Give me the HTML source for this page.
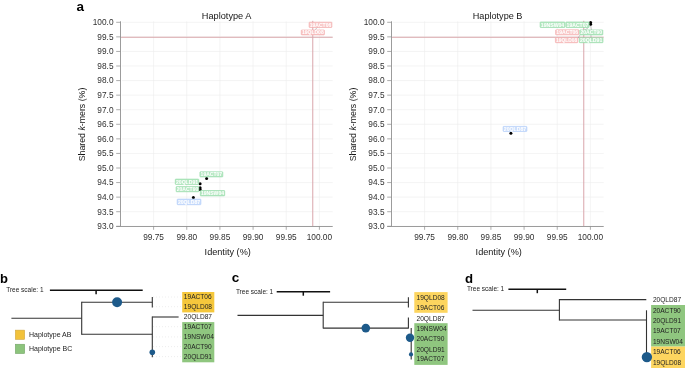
<!DOCTYPE html><html><head><meta charset="utf-8"><style>html,body{margin:0;padding:0;background:#fff;}svg{display:block;will-change:transform;}text{font-family:"Liberation Sans", sans-serif;}</style></head><body>
<svg width="685" height="368" viewBox="0 0 685 368">
<g stroke="#ececec" stroke-width="0.6"><line x1="122.00" y1="22.30" x2="332.70" y2="22.30"/><line x1="122.00" y1="36.87" x2="332.70" y2="36.87"/><line x1="122.00" y1="51.44" x2="332.70" y2="51.44"/><line x1="122.00" y1="66.01" x2="332.70" y2="66.01"/><line x1="122.00" y1="80.58" x2="332.70" y2="80.58"/><line x1="122.00" y1="95.15" x2="332.70" y2="95.15"/><line x1="122.00" y1="109.72" x2="332.70" y2="109.72"/><line x1="122.00" y1="124.29" x2="332.70" y2="124.29"/><line x1="122.00" y1="138.86" x2="332.70" y2="138.86"/><line x1="122.00" y1="153.43" x2="332.70" y2="153.43"/><line x1="122.00" y1="168.00" x2="332.70" y2="168.00"/><line x1="122.00" y1="182.57" x2="332.70" y2="182.57"/><line x1="122.00" y1="197.14" x2="332.70" y2="197.14"/><line x1="122.00" y1="211.71" x2="332.70" y2="211.71"/><line x1="122.00" y1="226.28" x2="332.70" y2="226.28"/><line x1="153.60" y1="21.30" x2="153.60" y2="226.00"/><line x1="186.76" y1="21.30" x2="186.76" y2="226.00"/><line x1="219.92" y1="21.30" x2="219.92" y2="226.00"/><line x1="253.08" y1="21.30" x2="253.08" y2="226.00"/><line x1="286.24" y1="21.30" x2="286.24" y2="226.00"/><line x1="319.40" y1="21.30" x2="319.40" y2="226.00"/></g>
<g stroke="#d9a6ab" stroke-width="1.0"><line x1="120.50" y1="37.25" x2="332.70" y2="37.25"/><line x1="312.77" y1="20.80" x2="312.77" y2="226.50"/></g>
<g stroke="#9c9c9c" stroke-width="1"><line x1="120.50" y1="21.30" x2="120.50" y2="226.50"/><line x1="116.20" y1="226.50" x2="332.70" y2="226.50"/></g>
<g stroke="#8a8a8a" stroke-width="0.7"><line x1="116.20" y1="22.30" x2="120.50" y2="22.30"/><line x1="116.20" y1="36.87" x2="120.50" y2="36.87"/><line x1="116.20" y1="51.44" x2="120.50" y2="51.44"/><line x1="116.20" y1="66.01" x2="120.50" y2="66.01"/><line x1="116.20" y1="80.58" x2="120.50" y2="80.58"/><line x1="116.20" y1="95.15" x2="120.50" y2="95.15"/><line x1="116.20" y1="109.72" x2="120.50" y2="109.72"/><line x1="116.20" y1="124.29" x2="120.50" y2="124.29"/><line x1="116.20" y1="138.86" x2="120.50" y2="138.86"/><line x1="116.20" y1="153.43" x2="120.50" y2="153.43"/><line x1="116.20" y1="168.00" x2="120.50" y2="168.00"/><line x1="116.20" y1="182.57" x2="120.50" y2="182.57"/><line x1="116.20" y1="197.14" x2="120.50" y2="197.14"/><line x1="116.20" y1="211.71" x2="120.50" y2="211.71"/><line x1="116.20" y1="226.28" x2="120.50" y2="226.28"/><line x1="153.60" y1="226.50" x2="153.60" y2="229.80"/><line x1="186.76" y1="226.50" x2="186.76" y2="229.80"/><line x1="219.92" y1="226.50" x2="219.92" y2="229.80"/><line x1="253.08" y1="226.50" x2="253.08" y2="229.80"/><line x1="286.24" y1="226.50" x2="286.24" y2="229.80"/><line x1="319.40" y1="226.50" x2="319.40" y2="229.80"/></g>
<g font-size="8.3" fill="#303030"><text x="113.50" y="25.10" text-anchor="end">100.0</text><text x="113.50" y="39.67" text-anchor="end">99.5</text><text x="113.50" y="54.24" text-anchor="end">99.0</text><text x="113.50" y="68.81" text-anchor="end">98.5</text><text x="113.50" y="83.38" text-anchor="end">98.0</text><text x="113.50" y="97.95" text-anchor="end">97.5</text><text x="113.50" y="112.52" text-anchor="end">97.0</text><text x="113.50" y="127.09" text-anchor="end">96.5</text><text x="113.50" y="141.66" text-anchor="end">96.0</text><text x="113.50" y="156.23" text-anchor="end">95.5</text><text x="113.50" y="170.80" text-anchor="end">95.0</text><text x="113.50" y="185.37" text-anchor="end">94.5</text><text x="113.50" y="199.94" text-anchor="end">94.0</text><text x="113.50" y="214.51" text-anchor="end">93.5</text><text x="113.50" y="229.08" text-anchor="end">93.0</text><text x="153.60" y="239.50" text-anchor="middle">99.75</text><text x="186.76" y="239.50" text-anchor="middle">99.80</text><text x="219.92" y="239.50" text-anchor="middle">99.85</text><text x="253.08" y="239.50" text-anchor="middle">99.90</text><text x="286.24" y="239.50" text-anchor="middle">99.95</text><text x="319.40" y="239.50" text-anchor="middle">100.00</text></g>
<text x="201.80" y="18.8" font-size="9" fill="#151515" textLength="49.6" lengthAdjust="spacingAndGlyphs">Haplotype A</text>
<text x="204.60" y="254.7" font-size="9" fill="#151515" textLength="46.2" lengthAdjust="spacingAndGlyphs">Identity (%)</text>
<text transform="translate(84.50,161.35) rotate(-90)" font-size="9" fill="#151515" textLength="73.7" lengthAdjust="spacingAndGlyphs">Shared <tspan font-style="italic">k</tspan>-mers (%)</text>
<line x1="315" y1="29.7" x2="317.8" y2="27.2" stroke="#777" stroke-width="0.4"/>
<circle cx="206.60" cy="178.40" r="1.5" fill="#000"/>
<circle cx="200.10" cy="183.80" r="1.5" fill="#000"/>
<circle cx="200.10" cy="187.80" r="1.5" fill="#000"/>
<circle cx="200.10" cy="189.50" r="1.5" fill="#000"/>
<circle cx="193.40" cy="197.50" r="1.5" fill="#000"/>
<rect x="309.10" y="22.20" width="22.80" height="5.30" rx="0.6" fill="#f9c9c9" stroke="#f2a6a6" stroke-width="0.6"/>
<text x="309.80" y="26.75" font-size="5.4" font-weight="bold" fill="#fff" textLength="21.40" lengthAdjust="spacingAndGlyphs">19ACT06</text>
<rect x="301.25" y="30.00" width="23.15" height="4.90" rx="0.6" fill="#f9c9c9" stroke="#f2a6a6" stroke-width="0.6"/>
<text x="301.95" y="34.35" font-size="5.4" font-weight="bold" fill="#fff" textLength="21.75" lengthAdjust="spacingAndGlyphs">19QLD08</text>
<rect x="199.90" y="171.80" width="22.90" height="5.10" rx="0.6" fill="#b9e9c5" stroke="#8fd8a3" stroke-width="0.6"/>
<text x="200.60" y="176.25" font-size="5.4" font-weight="bold" fill="#fff" textLength="21.50" lengthAdjust="spacingAndGlyphs">19ACT07</text>
<rect x="175.30" y="179.10" width="23.45" height="5.30" rx="0.6" fill="#b9e9c5" stroke="#8fd8a3" stroke-width="0.6"/>
<text x="176.00" y="183.65" font-size="5.4" font-weight="bold" fill="#fff" textLength="22.05" lengthAdjust="spacingAndGlyphs">20QLD91</text>
<rect x="176.10" y="186.60" width="22.80" height="5.15" rx="0.6" fill="#b9e9c5" stroke="#8fd8a3" stroke-width="0.6"/>
<text x="176.80" y="191.08" font-size="5.4" font-weight="bold" fill="#fff" textLength="21.40" lengthAdjust="spacingAndGlyphs">20ACT90</text>
<rect x="200.30" y="190.50" width="24.40" height="5.40" rx="0.6" fill="#b9e9c5" stroke="#8fd8a3" stroke-width="0.6"/>
<text x="201.00" y="195.10" font-size="5.4" font-weight="bold" fill="#fff" textLength="23.00" lengthAdjust="spacingAndGlyphs">19NSW04</text>
<rect x="177.20" y="199.10" width="23.70" height="5.60" rx="0.6" fill="#cddffc" stroke="#a9c7f8" stroke-width="0.6"/>
<text x="177.90" y="203.80" font-size="5.4" font-weight="bold" fill="#fff" textLength="22.30" lengthAdjust="spacingAndGlyphs">20QLD87</text>
<g stroke="#ececec" stroke-width="0.6"><line x1="393.00" y1="22.30" x2="603.70" y2="22.30"/><line x1="393.00" y1="36.87" x2="603.70" y2="36.87"/><line x1="393.00" y1="51.44" x2="603.70" y2="51.44"/><line x1="393.00" y1="66.01" x2="603.70" y2="66.01"/><line x1="393.00" y1="80.58" x2="603.70" y2="80.58"/><line x1="393.00" y1="95.15" x2="603.70" y2="95.15"/><line x1="393.00" y1="109.72" x2="603.70" y2="109.72"/><line x1="393.00" y1="124.29" x2="603.70" y2="124.29"/><line x1="393.00" y1="138.86" x2="603.70" y2="138.86"/><line x1="393.00" y1="153.43" x2="603.70" y2="153.43"/><line x1="393.00" y1="168.00" x2="603.70" y2="168.00"/><line x1="393.00" y1="182.57" x2="603.70" y2="182.57"/><line x1="393.00" y1="197.14" x2="603.70" y2="197.14"/><line x1="393.00" y1="211.71" x2="603.70" y2="211.71"/><line x1="393.00" y1="226.28" x2="603.70" y2="226.28"/><line x1="424.60" y1="21.30" x2="424.60" y2="226.00"/><line x1="457.76" y1="21.30" x2="457.76" y2="226.00"/><line x1="490.92" y1="21.30" x2="490.92" y2="226.00"/><line x1="524.08" y1="21.30" x2="524.08" y2="226.00"/><line x1="557.24" y1="21.30" x2="557.24" y2="226.00"/><line x1="590.40" y1="21.30" x2="590.40" y2="226.00"/></g>
<g stroke="#d9a6ab" stroke-width="1.0"><line x1="391.50" y1="37.25" x2="603.70" y2="37.25"/><line x1="583.77" y1="20.80" x2="583.77" y2="226.50"/></g>
<g stroke="#9c9c9c" stroke-width="1"><line x1="391.50" y1="21.30" x2="391.50" y2="226.50"/><line x1="387.20" y1="226.50" x2="603.70" y2="226.50"/></g>
<g stroke="#8a8a8a" stroke-width="0.7"><line x1="387.20" y1="22.30" x2="391.50" y2="22.30"/><line x1="387.20" y1="36.87" x2="391.50" y2="36.87"/><line x1="387.20" y1="51.44" x2="391.50" y2="51.44"/><line x1="387.20" y1="66.01" x2="391.50" y2="66.01"/><line x1="387.20" y1="80.58" x2="391.50" y2="80.58"/><line x1="387.20" y1="95.15" x2="391.50" y2="95.15"/><line x1="387.20" y1="109.72" x2="391.50" y2="109.72"/><line x1="387.20" y1="124.29" x2="391.50" y2="124.29"/><line x1="387.20" y1="138.86" x2="391.50" y2="138.86"/><line x1="387.20" y1="153.43" x2="391.50" y2="153.43"/><line x1="387.20" y1="168.00" x2="391.50" y2="168.00"/><line x1="387.20" y1="182.57" x2="391.50" y2="182.57"/><line x1="387.20" y1="197.14" x2="391.50" y2="197.14"/><line x1="387.20" y1="211.71" x2="391.50" y2="211.71"/><line x1="387.20" y1="226.28" x2="391.50" y2="226.28"/><line x1="424.60" y1="226.50" x2="424.60" y2="229.80"/><line x1="457.76" y1="226.50" x2="457.76" y2="229.80"/><line x1="490.92" y1="226.50" x2="490.92" y2="229.80"/><line x1="524.08" y1="226.50" x2="524.08" y2="229.80"/><line x1="557.24" y1="226.50" x2="557.24" y2="229.80"/><line x1="590.40" y1="226.50" x2="590.40" y2="229.80"/></g>
<g font-size="8.3" fill="#303030"><text x="384.50" y="25.10" text-anchor="end">100.0</text><text x="384.50" y="39.67" text-anchor="end">99.5</text><text x="384.50" y="54.24" text-anchor="end">99.0</text><text x="384.50" y="68.81" text-anchor="end">98.5</text><text x="384.50" y="83.38" text-anchor="end">98.0</text><text x="384.50" y="97.95" text-anchor="end">97.5</text><text x="384.50" y="112.52" text-anchor="end">97.0</text><text x="384.50" y="127.09" text-anchor="end">96.5</text><text x="384.50" y="141.66" text-anchor="end">96.0</text><text x="384.50" y="156.23" text-anchor="end">95.5</text><text x="384.50" y="170.80" text-anchor="end">95.0</text><text x="384.50" y="185.37" text-anchor="end">94.5</text><text x="384.50" y="199.94" text-anchor="end">94.0</text><text x="384.50" y="214.51" text-anchor="end">93.5</text><text x="384.50" y="229.08" text-anchor="end">93.0</text><text x="424.60" y="239.50" text-anchor="middle">99.75</text><text x="457.76" y="239.50" text-anchor="middle">99.80</text><text x="490.92" y="239.50" text-anchor="middle">99.85</text><text x="524.08" y="239.50" text-anchor="middle">99.90</text><text x="557.24" y="239.50" text-anchor="middle">99.95</text><text x="590.40" y="239.50" text-anchor="middle">100.00</text></g>
<text x="472.80" y="18.8" font-size="9" fill="#151515" textLength="49.6" lengthAdjust="spacingAndGlyphs">Haplotype B</text>
<text x="475.60" y="254.7" font-size="9" fill="#151515" textLength="46.2" lengthAdjust="spacingAndGlyphs">Identity (%)</text>
<text transform="translate(355.50,161.35) rotate(-90)" font-size="9" fill="#151515" textLength="73.7" lengthAdjust="spacingAndGlyphs">Shared <tspan font-style="italic">k</tspan>-mers (%)</text>
<line x1="588" y1="28" x2="584" y2="30.5" stroke="#777" stroke-width="0.4"/>
<line x1="590.6" y1="25" x2="591.5" y2="30" stroke="#777" stroke-width="0.4"/>
<line x1="580" y1="35" x2="578" y2="38" stroke="#777" stroke-width="0.4"/>
<line x1="591" y1="35" x2="591" y2="38" stroke="#777" stroke-width="0.4"/>
<circle cx="590.60" cy="22.60" r="1.5" fill="#000"/>
<circle cx="590.60" cy="24.30" r="1.5" fill="#000"/>
<circle cx="510.90" cy="133.30" r="1.5" fill="#000"/>
<rect x="540.10" y="22.00" width="24.80" height="5.50" rx="0.6" fill="#b9e9c5" stroke="#8fd8a3" stroke-width="0.6"/>
<text x="540.80" y="26.65" font-size="5.4" font-weight="bold" fill="#fff" textLength="23.40" lengthAdjust="spacingAndGlyphs">19NSW04</text>
<rect x="565.90" y="22.00" width="23.20" height="5.50" rx="0.6" fill="#b9e9c5" stroke="#8fd8a3" stroke-width="0.6"/>
<text x="566.60" y="26.65" font-size="5.4" font-weight="bold" fill="#fff" textLength="21.80" lengthAdjust="spacingAndGlyphs">19ACT07</text>
<rect x="555.60" y="29.80" width="23.30" height="5.00" rx="0.6" fill="#f9c9c9" stroke="#f2a6a6" stroke-width="0.6"/>
<text x="556.30" y="34.20" font-size="5.4" font-weight="bold" fill="#fff" textLength="21.90" lengthAdjust="spacingAndGlyphs">19ACT06</text>
<rect x="579.80" y="29.90" width="23.00" height="5.00" rx="0.6" fill="#b9e9c5" stroke="#8fd8a3" stroke-width="0.6"/>
<text x="580.50" y="34.30" font-size="5.4" font-weight="bold" fill="#fff" textLength="21.60" lengthAdjust="spacingAndGlyphs">20ACT90</text>
<rect x="555.40" y="37.70" width="22.40" height="5.00" rx="0.6" fill="#f9c9c9" stroke="#f2a6a6" stroke-width="0.6"/>
<text x="556.10" y="42.10" font-size="5.4" font-weight="bold" fill="#fff" textLength="21.00" lengthAdjust="spacingAndGlyphs">19QLD08</text>
<rect x="579.30" y="37.70" width="23.70" height="5.00" rx="0.6" fill="#b9e9c5" stroke="#8fd8a3" stroke-width="0.6"/>
<text x="580.00" y="42.10" font-size="5.4" font-weight="bold" fill="#fff" textLength="22.30" lengthAdjust="spacingAndGlyphs">20QLD91</text>
<rect x="503.10" y="126.40" width="23.80" height="5.00" rx="0.6" fill="#cddffc" stroke="#a9c7f8" stroke-width="0.6"/>
<text x="503.80" y="130.80" font-size="5.4" font-weight="bold" fill="#fff" textLength="22.40" lengthAdjust="spacingAndGlyphs">20QLD87</text>
<text x="76.5" y="10.6" font-size="13.5" font-weight="bold" fill="#000">a</text>
<text x="0.0" y="282.8" font-size="13" font-weight="bold" fill="#000">b</text>
<text x="231.7" y="282.2" font-size="13.5" font-weight="bold" fill="#000">c</text>
<text x="464.9" y="282.7" font-size="13.2" font-weight="bold" fill="#000">d</text>
<text x="6.2" y="292.1" font-size="6.5" fill="#222">Tree scale: 1</text>
<line x1="49.9" y1="290.2" x2="142.7" y2="290.2" stroke="#111" stroke-width="1.5"/>
<line x1="96.1" y1="290.2" x2="96.1" y2="294.2" stroke="#111" stroke-width="1.5"/>
<rect x="182.2" y="292" width="32.1" height="20.4" fill="#f5c73c"/>
<rect x="182.2" y="322.1" width="32.1" height="40.2" fill="#8fc67f"/>
<line x1="153" y1="297" x2="182" y2="297" stroke="#ddd" stroke-width="0.5" stroke-dasharray="1,2"/>
<line x1="153" y1="306.7" x2="182" y2="306.7" stroke="#ddd" stroke-width="0.5" stroke-dasharray="1,2"/>
<line x1="153" y1="326.7" x2="182" y2="326.7" stroke="#ddd" stroke-width="0.5" stroke-dasharray="1,2"/>
<line x1="153" y1="336.9" x2="182" y2="336.9" stroke="#ddd" stroke-width="0.5" stroke-dasharray="1,2"/>
<line x1="153" y1="346.6" x2="182" y2="346.6" stroke="#ddd" stroke-width="0.5" stroke-dasharray="1,2"/>
<line x1="153" y1="356.6" x2="182" y2="356.6" stroke="#ddd" stroke-width="0.5" stroke-dasharray="1,2"/>
<line x1="11.4" y1="318.3" x2="81.7" y2="318.3" stroke="#333" stroke-width="1.1"/>
<line x1="81.7" y1="301.7" x2="81.7" y2="334.8" stroke="#333" stroke-width="1.1"/>
<line x1="81.7" y1="302.2" x2="152.3" y2="302.2" stroke="#333" stroke-width="1.1"/>
<line x1="152.3" y1="297" x2="152.3" y2="307.4" stroke="#333" stroke-width="1.1"/>
<line x1="81.7" y1="334.2" x2="152.3" y2="334.2" stroke="#333" stroke-width="1.1"/>
<line x1="152.3" y1="316.5" x2="152.3" y2="357.2" stroke="#333" stroke-width="1.1"/>
<line x1="152.3" y1="317" x2="178.6" y2="317" stroke="#333" stroke-width="1.1"/>
<circle cx="117.1" cy="302.2" r="5.0" fill="#1d5a8a"/>
<circle cx="152.3" cy="352.2" r="2.8" fill="#1d5a8a"/>
<text x="183.8" y="299.30" font-size="6.6" fill="#222">19ACT06</text>
<text x="183.8" y="309.00" font-size="6.6" fill="#222">19QLD08</text>
<text x="183.8" y="319.00" font-size="6.6" fill="#222">20QLD87</text>
<text x="183.8" y="329.00" font-size="6.6" fill="#222">19ACT07</text>
<text x="183.8" y="339.20" font-size="6.6" fill="#222">19NSW04</text>
<text x="183.8" y="348.90" font-size="6.6" fill="#222">20ACT90</text>
<text x="183.8" y="358.90" font-size="6.6" fill="#222">20QLD91</text>
<rect x="15.3" y="330.1" width="9.4" height="9.4" fill="#f2c23b" stroke="#c9a040" stroke-width="0.5"/>
<rect x="15.3" y="344.2" width="9.4" height="9.4" fill="#8cc47c" stroke="#6f9e62" stroke-width="0.5"/>
<text x="29" y="337.1" font-size="7" fill="#222">Haplotype AB</text>
<text x="29" y="351.3" font-size="7" fill="#222">Haplotype BC</text>
<text x="235.9" y="293.8" font-size="6.5" fill="#222">Tree scale: 1</text>
<line x1="276.7" y1="291.7" x2="330.1" y2="291.7" stroke="#111" stroke-width="1.5"/>
<line x1="303.3" y1="291.7" x2="303.3" y2="295.7" stroke="#111" stroke-width="1.5"/>
<rect x="414.3" y="292.1" width="33.3" height="20.7" fill="#fdd55f"/>
<rect x="414.3" y="323.2" width="33.3" height="41.7" fill="#8fc67f"/>
<line x1="237.5" y1="315.4" x2="323.2" y2="315.4" stroke="#333" stroke-width="1.1"/>
<line x1="323.2" y1="301.8" x2="323.2" y2="328.6" stroke="#333" stroke-width="1.1"/>
<line x1="323.2" y1="302.3" x2="408.4" y2="302.3" stroke="#333" stroke-width="1.1"/>
<line x1="408.4" y1="297.3" x2="408.4" y2="307.6" stroke="#333" stroke-width="1.1"/>
<line x1="323.2" y1="328.1" x2="408.4" y2="328.1" stroke="#333" stroke-width="1.1"/>
<line x1="408.4" y1="317.5" x2="408.4" y2="328.6" stroke="#333" stroke-width="1.1"/>
<line x1="411.2" y1="328.1" x2="411.2" y2="359.4" stroke="#333" stroke-width="1.1"/>
<circle cx="365.8" cy="328.1" r="4.3" fill="#1d5a8a"/>
<circle cx="410.0" cy="337.7" r="4.2" fill="#1d5a8a"/>
<circle cx="411.0" cy="354.4" r="2.1" fill="#1d5a8a"/>
<text x="416.5" y="299.90" font-size="6.6" fill="#222">19QLD08</text>
<text x="416.5" y="309.90" font-size="6.6" fill="#222">19ACT06</text>
<text x="416.5" y="320.50" font-size="6.6" fill="#222">20QLD87</text>
<text x="416.5" y="330.90" font-size="6.6" fill="#222">19NSW04</text>
<text x="416.5" y="341.00" font-size="6.6" fill="#222">20ACT90</text>
<text x="416.5" y="351.60" font-size="6.6" fill="#222">20QLD91</text>
<text x="416.5" y="361.30" font-size="6.6" fill="#222">19ACT07</text>
<text x="466.9" y="291.2" font-size="6.5" fill="#222">Tree scale: 1</text>
<line x1="508.4" y1="289.2" x2="566.2" y2="289.2" stroke="#111" stroke-width="1.5"/>
<line x1="537.3" y1="289.2" x2="537.3" y2="293.2" stroke="#111" stroke-width="1.5"/>
<rect x="651.1" y="305" width="34" height="41.6" fill="#8fc67f"/>
<rect x="651.1" y="346.6" width="34" height="21.4" fill="#fdd55f"/>
<line x1="472.5" y1="310.3" x2="559.4" y2="310.3" stroke="#333" stroke-width="1.1"/>
<line x1="559.4" y1="299.1" x2="559.4" y2="320.6" stroke="#333" stroke-width="1.1"/>
<line x1="559.4" y1="299.6" x2="646.3" y2="299.6" stroke="#333" stroke-width="1.1"/>
<line x1="559.4" y1="320.0" x2="646.5" y2="320.0" stroke="#333" stroke-width="1.1"/>
<line x1="646.5" y1="310.3" x2="646.5" y2="357.1" stroke="#333" stroke-width="1.1"/>
<circle cx="646.9" cy="357.1" r="5.2" fill="#1d5a8a"/>
<text x="652.9" y="301.80" font-size="6.6" fill="#222">20QLD87</text>
<text x="652.9" y="312.70" font-size="6.6" fill="#222">20ACT90</text>
<text x="652.9" y="322.50" font-size="6.6" fill="#222">20QLD91</text>
<text x="652.9" y="333.00" font-size="6.6" fill="#222">19ACT07</text>
<text x="652.9" y="343.70" font-size="6.6" fill="#222">19NSW04</text>
<text x="652.9" y="354.00" font-size="6.6" fill="#222">19ACT06</text>
<text x="652.9" y="364.50" font-size="6.6" fill="#222">19QLD08</text>
</svg></body></html>
